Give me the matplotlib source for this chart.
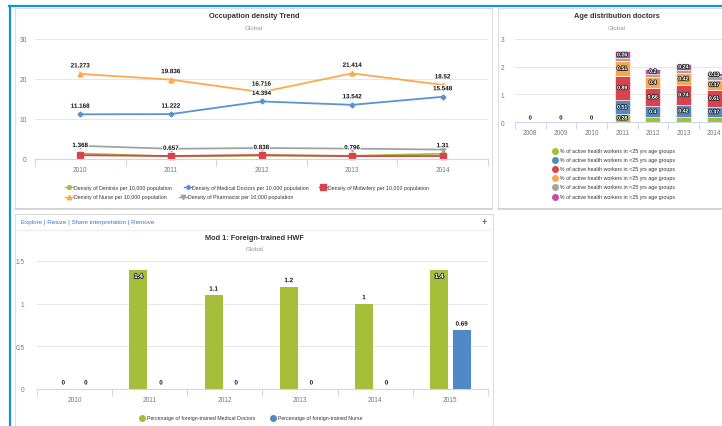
import numpy as np
import matplotlib
matplotlib.use('Agg')
import matplotlib.pyplot as plt
import matplotlib.patheffects as pe
from matplotlib.lines import Line2D
from matplotlib.patches import Rectangle

plt.rcParams['font.family'] = ['Liberation Sans', 'DejaVu Sans']

# ---- data: occupation density trend ----
trend_years = ['2010', '2011', '2012', '2013', '2014']
dentists = [1.368, 0.657, 0.838, 0.796, 1.31]
doctors = [11.168, 11.222, 14.394, 13.542, 15.548]
midwifery = [0.95, 0.75, 1.0, 0.72, 0.75]
nurse = [21.273, 19.836, 16.716, 21.414, 18.52]
pharmacist = [3.3, 2.55, 2.75, 2.6, 2.35]

# ---- data: age distribution doctors (stacked) ----
age_years = ['2008', '2009', '2010', '2011', '2012', '2013', '2014']
age_green = [0, 0, 0, 0.28, 0.17, 0.19, 0.18]
age_blue = [0, 0, 0, 0.51, 0.4, 0.42, 0.37]
age_red = [0, 0, 0, 0.89, 0.66, 0.74, 0.61]
age_orange = [0, 0, 0, 0.51, 0.4, 0.42, 0.37]
age_gray = [0, 0, 0, 0.11, 0.1, 0.1, 0.12]
age_pink = [0, 0, 0, 0.26, 0.2, 0.24, 0.13]
age_label = '% of active health workers in <25 yrs age groups'

# ---- data: foreign-trained HWF ----
hwf_years = ['2010', '2011', '2012', '2013', '2014', '2015']
hwf_doctors = [0, 1.4, 1.1, 1.2, 1.0, 1.4]
hwf_nurse = [0, 0, 0, 0, 0, 0.69]

GREEN = '#a6bf3a'
BLUE = '#5089c6'
RED = '#d9434f'
ORANGE = '#fda64c'
GRAY = '#a3a3a3'
PINK = '#c24cb0'

W, H = 722, 427
fig = plt.figure(figsize=(W / 100, H / 100), dpi=100)
fig.patch.set_facecolor('white')


def L(x):
    return x / W


def B(y):
    return 1 - y / H


def axes_px(l, t, r, b):
    return fig.add_axes([L(l), B(b), (r - l) / W, (b - t) / H])


def ftext(x, y, s, **kw):
    fig.text(L(x), B(y), s, **kw)


def fline(xs, ys, **kw):
    fig.add_artist(Line2D([L(v) for v in xs], [B(v) for v in ys],
                          transform=fig.transFigure, **kw))


def legend_item(x, y, color, marker, label, ms, line=True):
    if line:
        fline([x - 4, x + 4], [y, y], color=color, lw=1)
    fline([x], [y], color=color, marker=marker, ms=ms, lw=0)
    ftext(x + 5, y, label, fontsize=3.8, color='#333333', va='center', ha='left')


def style_axes(ax, n, ymax, yticks, ylabels, ypad):
    ax.set_xlim(-0.5, n - 0.5)
    ax.set_ylim(0, ymax)
    ax.set_yticks(yticks)
    ax.set_yticklabels(ylabels)
    ax.set_xticks(np.arange(-0.5, n), minor=True)
    for s in ['left', 'right', 'top']:
        ax.spines[s].set_visible(False)
    ax.spines['bottom'].set_color('#ccd6eb')
    ax.spines['bottom'].set_linewidth(0.8)
    ax.yaxis.grid(True, color='#e6e6e6', lw=0.7)
    ax.set_axisbelow(True)
    ax.tick_params(axis='y', length=0, pad=ypad, labelsize=4.7, labelcolor='#777777')
    ax.tick_params(axis='x', which='major', length=0, pad=5, labelsize=4.7, labelcolor='#777777')
    ax.tick_params(axis='x', which='minor', length=5, width=0.7, color='#ccd6eb')
    ax.set_facecolor('none')


halo = [pe.withStroke(linewidth=1.5, foreground='white')]
dark = [pe.withStroke(linewidth=1.3, foreground='#333333')]

# ---- frame and panels ----
fline([9, 722], [7, 7], color='#1592d6', lw=1.6)
fline([9.8, 9.8], [7, 427], color='#1592d6', lw=1.6)
for l, t, r, b in [(15, 9, 492, 209), (498, 9, 745, 209), (15, 215, 493, 445)]:
    fig.add_artist(Rectangle((L(l), B(b)), (r - l) / W, (b - t) / H, fill=False,
                             ec='#dcdcdc', lw=0.8, transform=fig.transFigure))
fline([15, 492], [210, 210], color='#d2d2d2', lw=1.2)
fline([498, 722], [210, 210], color='#d2d2d2', lw=1.2)

# ---- panel 1: occupation density trend ----
ax1 = axes_px(35, 40, 488, 160)
x1 = np.arange(len(trend_years))
trend_series = [
    (dentists, GREEN, 'o', 3, 'Density of Dentists per 10,000 population', True),
    (doctors, '#5b93d1', 'D', 2.5, 'Density of Medical Doctors per 10,000 population', True),
    (midwifery, RED, 's', 4.5, 'Density of Midwifery per 10,000 population', False),
    (nurse, '#ffa84f', '^', 3.5, 'Density of Nurse per 10,000 population', True),
    (pharmacist, GRAY, 'v', 3.5, 'Density of Pharmacist per 10,000 population', False),
]
for vals, col, mk, ms, lab, show in trend_series:
    ax1.plot(x1, vals, color=col, marker=mk, ms=ms, lw=1.3, clip_on=False)
    if show:
        for xi, v in zip(x1, vals):
            ax1.annotate(f'{v:g}', (xi, v), xytext=(0, 8), textcoords='offset pixels',
                         ha='center', va='center', fontsize=4.5, fontweight='bold',
                         color='#111111', path_effects=halo)
style_axes(ax1, len(trend_years), 30, [0, 10, 20, 30], ['0', '10', '20', '30'], 6)
ax1.set_xticks(x1)
ax1.set_xticklabels(trend_years)

ftext(254, 17, 'Occupation density Trend', fontsize=5.3, fontweight='bold',
      color='#333333', ha='center', va='center')
ftext(254, 28, 'Global', fontsize=4.5, color='#999999', ha='center', va='center')

leg1_pos = [(68.5, 188.3), (187.5, 188.3), (323, 188.3), (68.5, 198), (183, 198)]
for (vals, col, mk, ms, lab, show), (lx, ly) in zip(trend_series, leg1_pos):
    legend_item(lx, ly, col, mk, lab, ms * 0.9)

# ---- panel 2: age distribution doctors ----
ax2 = axes_px(515, 40, 760, 123)
x2 = np.arange(len(age_years))
age_stack = [age_green, age_blue, age_red, age_orange, age_gray, age_pink]
age_colors = [GREEN, BLUE, RED, ORANGE, GRAY, PINK]
bottom = np.zeros(len(age_years))
for k, (vals, col) in enumerate(zip(age_stack, age_colors)):
    vals = np.array(vals, dtype=float)
    ax2.bar(x2, vals, 0.49, bottom=bottom, color=col, edgecolor='white', lw=0.4)
    for xi, v, b0 in zip(x2, vals, bottom):
        top_seg = k == len(age_stack) - 1
        if v > 0 and (v >= 0.2 or top_seg) and col != GRAY:
            ax2.text(xi, b0 + v / 2, f'{v:g}', ha='center', va='center', fontsize=3.8,
                     fontweight='bold', color='white', path_effects=dark)
    bottom += vals
for xi, tot in zip(x2, bottom):
    if tot == 0:
        ax2.annotate('0', (xi, 0), xytext=(0, 4), textcoords='offset pixels', ha='center',
                     va='center', fontsize=4.2, fontweight='bold', color='#111111',
                     path_effects=halo)
style_axes(ax2, 8, 3, [0, 1, 2, 3], ['0', '1', '2', '3'], 8)
ax2.set_xticks(x2)
ax2.set_xticklabels(age_years)

ftext(616.5, 17, 'Age distribution doctors', fontsize=5.3, fontweight='bold',
      color='#333333', ha='center', va='center')
ftext(616.5, 28, 'Global', fontsize=4.5, color='#999999', ha='center', va='center')
leg2_y = [151.7, 160.5, 169.5, 179, 188, 197.5]
for col, ly in zip(age_colors, leg2_y):
    legend_item(554.5, ly, col, 'o', age_label, 4, line=False)

# ---- panel 3: foreign-trained HWF ----
ftext(21, 223, 'Explore | Resize | Share interpretation | Remove', fontsize=4.5,
      color='#3c78c3', ha='left', va='center')
ftext(484, 222.5, '+', fontsize=6.5, fontweight='bold', color='#666666',
      ha='center', va='center')
fline([15, 493], [231, 231], color='#ececec', lw=0.8)

ax3 = axes_px(37, 262, 488, 390)
x3 = np.arange(len(hwf_years))
for vals, col, off in [(hwf_doctors, GREEN, -0.15), (hwf_nurse, BLUE, 0.15)]:
    ax3.bar(x3 + off, vals, 0.24, color=col)
    for xi, v in zip(x3 + off, vals):
        if v > 0.9 * 1.5:
            ax3.annotate(f'{v:g}', (xi, v), xytext=(0, -7), textcoords='offset pixels',
                         ha='center', va='center', fontsize=4.5, fontweight='bold',
                         color='white', path_effects=dark)
        else:
            ax3.annotate(f'{v:g}', (xi, v), xytext=(0, 6), textcoords='offset pixels',
                         ha='center', va='center', fontsize=4.5, fontweight='bold',
                         color='#111111', path_effects=halo)
style_axes(ax3, len(hwf_years), 1.5, [0, 0.5, 1, 1.5], ['0', '0.5', '1', '1.5'], 9)
ax3.set_xticks(x3)
ax3.set_xticklabels(hwf_years)

ftext(254.5, 239, 'Mod 1: Foreign-trained HWF', fontsize=5.3, fontweight='bold',
      color='#333333', ha='center', va='center')
ftext(254.5, 250, 'Global', fontsize=4.5, color='#999999', ha='center', va='center')
legend_item(141.7, 419, GREEN, 'o', 'Percenatge of foreign-trained Medical Doctors', 4, line=False)
legend_item(273.3, 419, BLUE, 'o', 'Percenatge of foreign-trained Nurse', 4, line=False)

fig.savefig('out.png', dpi=100)
